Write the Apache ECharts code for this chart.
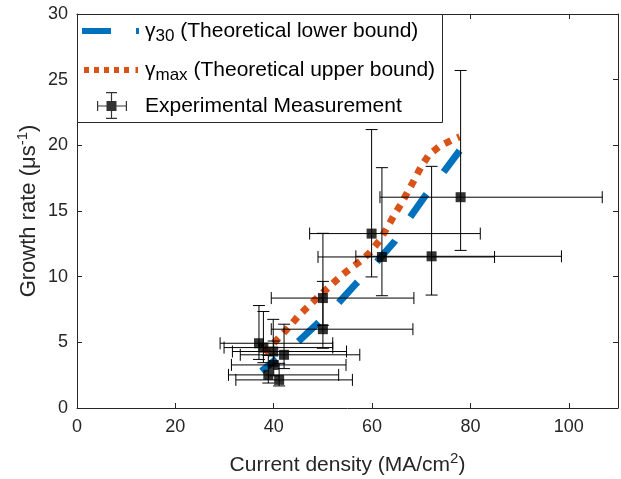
<!DOCTYPE html>
<html>
<head>
<meta charset="utf-8">
<script src="https://cdn.jsdelivr.net/npm/echarts@6/dist/echarts.min.js"></script>
<style>html,body{margin:0;padding:0;background:#fff}#c{width:621px;height:479px}</style>
</head>
<body>
<div id="c"></div>
<script>
// ---- data ----
const xTickValues = [0, 20, 40, 60, 80, 100];
const xAxisMax = 110;
const yTickValues = [0, 5, 10, 15, 20, 25, 30];

// gamma_30 (theoretical lower bound)
const g30X = [37.5, 41, 45, 49, 53.1, 56.8, 60.9, 64.6, 67.3, 70.7, 74.4, 77.8];
const g30Y = [2.8, 3.85, 5.06, 6.47, 7.97, 9.5, 11.1, 12.7, 14.3, 16.1, 17.9, 19.6];
// gamma_max (theoretical upper bound)
const gmaxX = [38, 40, 42, 45, 47, 49, 51.4, 53.5, 55.5, 57.7, 59.6, 61.6, 63.1, 64.5, 66, 67.3, 68.7, 70, 71.6, 73.8, 76.5, 77.8];
const gmaxY = [4.2, 4.95, 5.7, 7.0, 7.73, 8.45, 9.26, 10.0, 10.6, 11.2, 11.85, 12.8, 13.75, 14.7, 15.6, 16.5, 17.45, 18.4, 19.3, 19.95, 20.45, 20.65];

// experimental measurements
const expX     = [37.0, 37.9, 39.9, 42.1, 40.0, 38.9, 41.1, 50.0, 50.0, 59.9, 62.0, 72.1, 78.0];
const expY     = [4.93, 4.6, 4.3, 4.05, 3.28, 2.52, 2.14, 8.37, 6.0, 13.28, 11.5, 11.55, 16.05];
const expXLow  = [29.1, 29.9, 31.6, 33.2, 31.4, 30.8, 32.3, 39.5, 39.5, 47.3, 49.0, 56.7, 61.6];
const expXHigh = [52.0, 52.0, 54.8, 57.5, 54.7, 53.2, 56.0, 68.5, 68.3, 82.0, 84.9, 98.5, 106.8];
const expYLow  = [3.7, 3.45, 3.2, 3.0, 2.45, 1.9, 1.68, 6.3, 4.55, 9.98, 8.55, 8.6, 12.0];
const expYHigh = [7.8, 7.35, 6.75, 6.38, 5.1, 4.0, 3.4, 13.3, 9.64, 21.2, 18.3, 18.4, 25.7];

// ---- build ----
const FONT = '"Liberation Sans", Arial, Helvetica, sans-serif';
const AX = '#262626';
const g30Data = g30X.map((x, i) => [x, g30Y[i]]);
const gmaxData = gmaxX.map((x, i) => [x, gmaxY[i]]);
const expData = expX.map((x, i) => [x, expY[i]]);
const errData = expX.map((x, i) => [x, expY[i], expXLow[i], expXHigh[i], expYLow[i], expYHigh[i]]);

const xInterval = xTickValues[1] - xTickValues[0];
const yInterval = yTickValues[1] - yTickValues[0];

function axisCommon(show) {
  return {
    axisLine: { show: true, onZero: false, lineStyle: { color: AX, width: 1 } },
    axisTick: { show: true, inside: true, length: 5, lineStyle: { color: AX, width: 1 } },
    splitLine: { show: false },
    axisLabel: { show: show }
  };
}

const corner = 'M0,0h0.01v0.01h-0.01Z M57.99,27.99h0.01v0.01h-0.01Z ';
const iconBlue = 'path://' + corner + 'M0,11H29V17H0Z M54,11H57V17H54Z';
const iconOrange = 'path://' + corner + 'M2,11H7V17H2Z M12,11H17V17H12Z M22,11H27V17H22Z M32,11H37V17H32Z M42,11H47V17H42Z M53.5,11H56V17H53.5Z';
const iconExp = 'path://' + corner +
  'M15,13.4H45V14.6H15Z M15,9H16.2V19H15Z M43.8,9H45V19H43.8Z ' +
  'M28.9,0H30.1V27H28.9Z M24,0H35V1.2H24Z M24,25.8H35V27H24Z ' +
  'M24.5,9H34.5V19H24.5Z';

const legendText = { fontSize: 21, fontFamily: FONT, color: '#000', lineHeight: 28,
  rich: {
    g: { fontSize: 21, fontFamily: FONT, color: '#000' },
    sub: { fontSize: 17, fontFamily: FONT, color: '#000', verticalAlign: 'bottom' }
  } };
function mkLegend(name, icon, top, color, fmt) {
  return {
    show: true, left: 82, top: top, orient: 'vertical', padding: 0,
    itemWidth: 58, itemHeight: 28, selectedMode: false, z: 10,
    data: [{ name: name, icon: icon, itemStyle: { color: color, borderWidth: 0 } }],
    formatter: () => fmt,
    textStyle: legendText
  };
}

const chart = echarts.init(document.getElementById('c'), null, { renderer: 'canvas' });
chart.setOption({
  animation: false,
  backgroundColor: '#fff',
  grid: { left: 77, top: 14, right: 3, bottom: 71, containLabel: false, outerBoundsMode: 'none' },
  xAxis: [
    Object.assign(axisCommon(true), {
      type: 'value', position: 'bottom', min: xTickValues[0], max: xAxisMax, interval: xInterval,
      axisLabel: { show: true, showMaxLabel: false, margin: 10, fontSize: 18, fontFamily: FONT, color: AX },
      name: 'Current density (MA/cm{sup|2})', nameLocation: 'middle', nameGap: 43, nameMoveOverlap: false,
      nameTextStyle: { fontSize: 21, fontFamily: FONT, color: AX, lineHeight: 28,
        rich: { sup: { fontSize: 15, fontFamily: FONT, color: AX, verticalAlign: 'top' } } }
    }),
    Object.assign(axisCommon(false), {
      type: 'value', position: 'top', min: xTickValues[0], max: xAxisMax, interval: xInterval
    })
  ],
  yAxis: [
    Object.assign(axisCommon(true), {
      type: 'value', position: 'left', min: yTickValues[0], max: yTickValues[yTickValues.length - 1], interval: yInterval,
      axisLabel: { show: true, margin: 9, fontSize: 18, fontFamily: FONT, color: AX },
      name: 'Growth rate (μs{sup|-1})', nameLocation: 'middle', nameGap: 34, nameMoveOverlap: false,
      nameTextStyle: { fontSize: 22, fontFamily: FONT, color: AX, lineHeight: 28,
        rich: { sup: { fontSize: 15, fontFamily: FONT, color: AX, verticalAlign: 'top' } } }
    }),
    Object.assign(axisCommon(false), {
      type: 'value', position: 'right', min: yTickValues[0], max: yTickValues[yTickValues.length - 1], interval: yInterval
    })
  ],
  legend: [
    mkLegend('γ30', iconBlue, 17, '#0072BD', '{g|γ}{sub|30} (Theoretical lower bound)'),
    mkLegend('γmax', iconOrange, 56, '#D95319', '{g|γ}{sub|max} (Theoretical upper bound)'),
    mkLegend('Experimental Measurement', iconExp, 92, '#000', 'Experimental Measurement')
  ],
  graphic: [{
    type: 'rect', z: 5, silent: true,
    shape: { x: 77.5, y: 14.5, width: 365, height: 108 },
    style: { fill: '#fff', stroke: AX, lineWidth: 1 }
  }],
  series: [
    {
      name: 'γ30', type: 'line', data: g30Data, xAxisIndex: 0, yAxisIndex: 0,
      symbol: 'none', z: 2, color: '#0072BD',
      lineStyle: { color: '#0072BD', width: 7, type: [28, 28], dashOffset: 8.6, cap: 'butt' }
    },
    {
      name: 'γmax', type: 'line', data: gmaxData, xAxisIndex: 0, yAxisIndex: 0,
      symbol: 'none', z: 2, color: '#D95319',
      lineStyle: { color: '#D95319', width: 7, type: [7, 7], cap: 'butt' }
    },
    {
      name: 'errbars', type: 'custom', data: errData, xAxisIndex: 0, yAxisIndex: 0, z: 3,
      encode: { x: 0, y: 1 },
      renderItem: function (params, api) {
        const x = api.value(0), y = api.value(1);
        const pL = api.coord([api.value(2), y]);
        const pR = api.coord([api.value(3), y]);
        const pB = api.coord([x, api.value(4)]);
        const pT = api.coord([x, api.value(5)]);
        const c = 6;
        const st = { stroke: '#000', lineWidth: 1, fill: null };
        const ln = (x1, y1, x2, y2) => ({ type: 'line', shape: { x1, y1, x2, y2 }, style: st });
        return { type: 'group', children: [
          ln(pL[0], pL[1], pR[0], pR[1]),
          ln(pL[0], pL[1] - c, pL[0], pL[1] + c),
          ln(pR[0], pR[1] - c, pR[0], pR[1] + c),
          ln(pB[0], pB[1], pT[0], pT[1]),
          ln(pB[0] - c, pB[1], pB[0] + c, pB[1]),
          ln(pT[0] - c, pT[1], pT[0] + c, pT[1])
        ] };
      }
    },
    {
      name: 'Experimental Measurement', type: 'scatter', data: expData, xAxisIndex: 0, yAxisIndex: 0,
      symbol: 'rect', symbolSize: 10, z: 4, color: '#000',
      itemStyle: { color: '#000' }
    }
  ]
});
</script>
</body>
</html>
